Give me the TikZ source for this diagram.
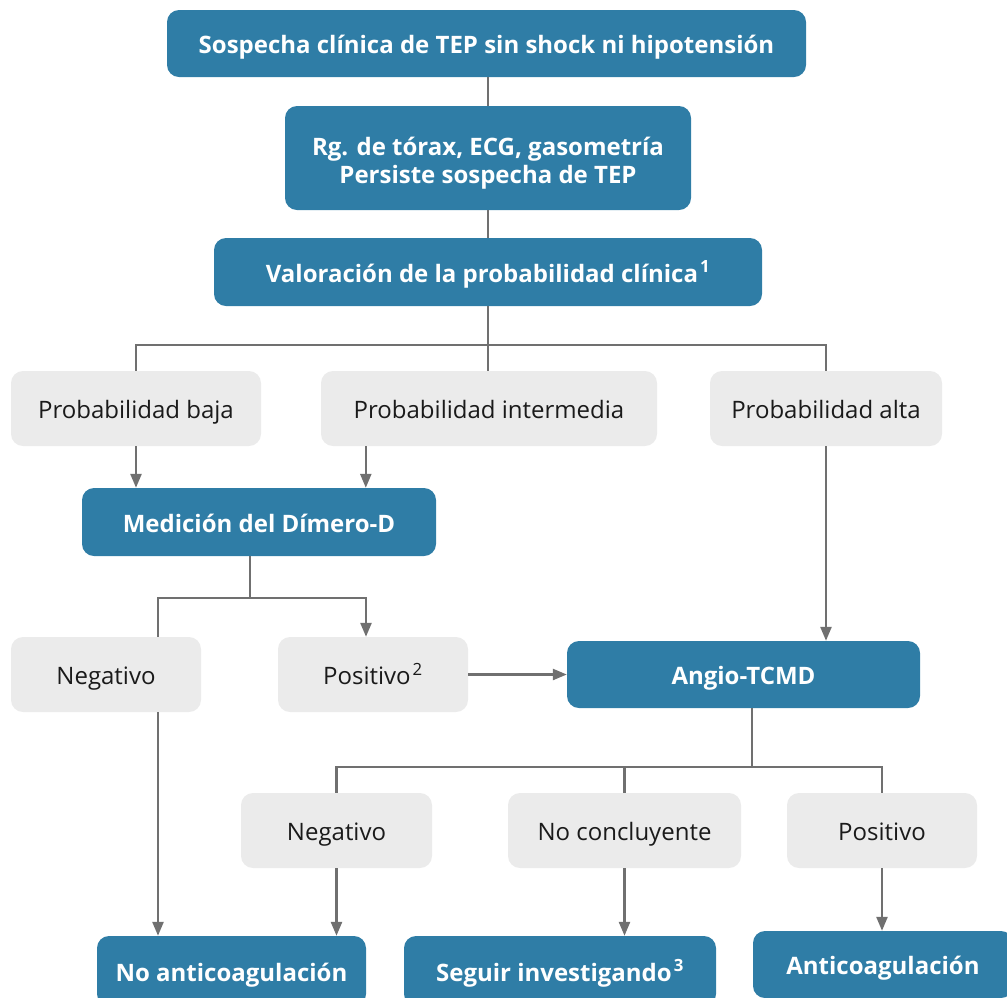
\documentclass[tikz,border=0pt]{standalone}
\usepackage{fontspec}
\setmainfont{Open Sans}
\usetikzlibrary{arrows.meta}
\definecolor{boxblue}{HTML}{2F7DA6}
\definecolor{boxgray}{HTML}{EBEBEB}
\definecolor{linegray}{HTML}{707070}
\definecolor{txt}{HTML}{1A1A1A}
\tikzset{
  bluebox/.style={rectangle, rounded corners=12pt, fill=boxblue, text=white, inner sep=0pt,
    font=\fontsize{24}{28}\selectfont\bfseries, align=center, text height=20pt, text depth=0pt},
  graybox/.style={rectangle, rounded corners=12pt, fill=boxgray, text=txt, inner sep=0pt,
    font=\fontsize{24}{28}\selectfont, align=center, minimum height=75pt, text height=20pt, text depth=0pt},
  conn/.style={draw=linegray, line width=2.5pt},
  arr/.style={conn, -{Triangle[length=14pt,width=11pt]}},
}
\newcommand{\supr}[1]{\kern2pt\textsuperscript{#1}}
\begin{document}
\begin{tikzpicture}[x=1pt,y=-1pt]
\useasboundingbox (0,0) rectangle (1007,997);
% nodes
\node[bluebox, minimum width=639pt, minimum height=67pt] (top) at (486.5,43.5) {Sospecha clínica de TEP sin shock ni hipotensión};
\node[bluebox, minimum width=406pt, minimum height=104pt, text height=, text depth=] (rg) at (488,158) {\rule{0pt}{28pt}Rg. de tórax, ECG, gasometría\\Persiste sospecha de TEP};
\node[bluebox, minimum width=548pt, minimum height=68pt] (val) at (488,272) {Valoración de la probabilidad clínica\supr{1}};
\node[graybox, minimum width=250pt] (baja) at (136,408.5) {Probabilidad baja};
\node[graybox, minimum width=336pt] (inter) at (489,408.5) {Probabilidad intermedia};
\node[graybox, minimum width=232pt] (alta) at (826,408.5) {Probabilidad alta};
\node[bluebox, minimum width=354pt, minimum height=68pt] (med) at (259,522) {Medición del Dímero-D};
\node[graybox, minimum width=190pt] (neg1) at (106,674.5) {Negativo};
\node[graybox, minimum width=190pt] (pos1) at (373,674.5) {Positivo\supr{2}};
\node[bluebox, minimum width=353pt, minimum height=67pt] (angio) at (743.5,674.5) {Angio-TCMD};
\node[graybox, minimum width=191pt] (neg2) at (336.5,830.5) {Negativo};
\node[graybox, minimum width=233pt] (noconc) at (624.5,830.5) {No concluyente};
\node[graybox, minimum width=190pt] (pos2) at (882,830.5) {Positivo};
\node[bluebox, minimum width=269pt, minimum height=70pt] (noanti) at (231.5,971) {No anticoagulación};
\node[bluebox, minimum width=312pt, minimum height=70pt] (seguir) at (560,971) {Seguir investigando\supr{3}};
\node[bluebox, minimum width=260pt, minimum height=67pt] (anti) at (883,964.5) {Anticoagulación};
% junctions
\coordinate (vj) at (488,345);
\coordinate (dj) at (250,598);
\coordinate (aj) at (752,767);
% connectors
\draw[conn] (rg.north |- top.south) -- (rg.north);
\draw[conn] (rg.south) -- (val.north);
\draw[conn] (val.south) -- (vj);
\draw[conn] (vj) -| (baja.north);
\draw[conn] (vj) -- (vj |- inter.north);
\draw[conn] (vj) -| (alta.north);
\draw[arr] (baja.south) -- (baja.south |- med.north);
\draw[arr] ([xshift=45pt]inter.south west) -- ([xshift=45pt]inter.south west |- med.north);
\draw[arr] (alta.south) -- (alta.south |- angio.north);
\draw[conn] (dj |- med.south) -- (dj);
\draw[conn] (dj) -| ([xshift=52pt]neg1.north);
\draw[arr] (dj) -| ([xshift=-7pt]pos1.north);
\draw[arr] (pos1.east) -- (angio.west);
\draw[conn] (aj |- angio.south) -- (aj);
\draw[conn] (aj) -| (neg2.north);
\draw[conn] (aj) -| (noconc.north);
\draw[conn] (aj) -| (pos2.north);
\draw[arr] ([xshift=52pt]neg1.south) -- ([xshift=52pt]neg1.south |- noanti.north);
\draw[arr] (neg2.south) -- (neg2.south |- noanti.north);
\draw[arr] (noconc.south) -- (noconc.south |- seguir.north);
\draw[arr] (pos2.south) -- (pos2.south |- anti.north);
\end{tikzpicture}
\end{document}
